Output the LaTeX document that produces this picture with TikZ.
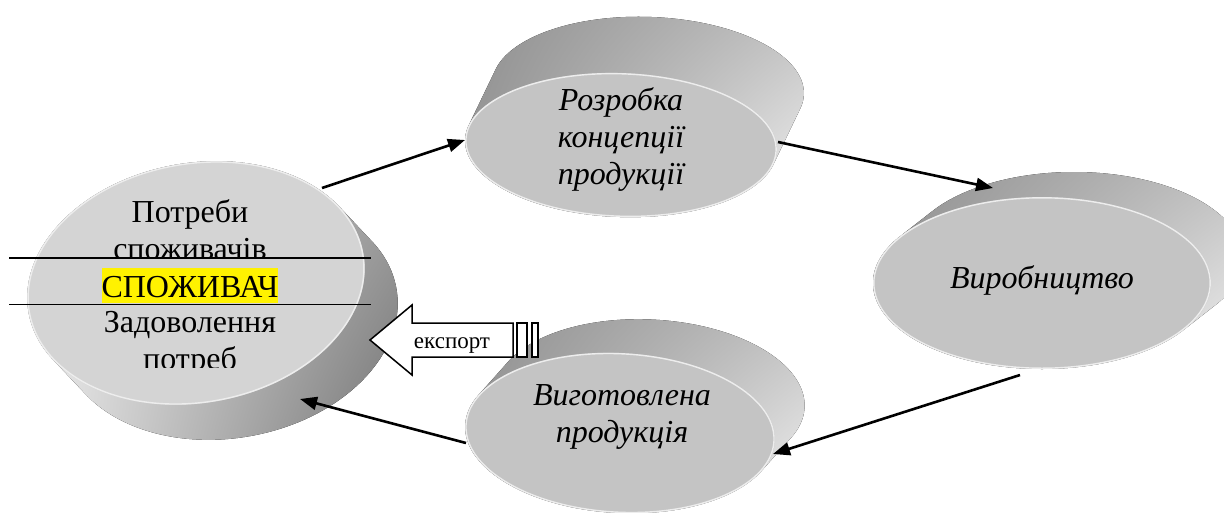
\documentclass[tikz,border=0pt]{standalone}
\usepackage{fontspec}
\setmainfont{Liberation Serif}
\usetikzlibrary{arrows.meta,shadings}
% #1 cx #2 cy #3 a #4 b #5 rot #6 dx(local) #7 dy(local) #8 side style #9 front style
\newcommand\drawdisk[9]{%
  \begin{scope}[shift={(#1,#2)},rotate=#5]
    \fill[#8] foreach \i in {0,...,40}{ ({\i/40*#6},{\i/40*#7}) ellipse [x radius=#3pt, y radius=#4pt] };
    \fill[#9] (0,0) ellipse [x radius=#3pt, y radius=#4pt];
    \draw[rimline] (0,0) ellipse [x radius=#3pt-0.8pt, y radius=#4pt-0.8pt];
  \end{scope}}
\tikzset{
  sideur/.style={upper left=black!44, upper right=black!24, lower left=black!40, lower right=black!5},
  sidelr/.style={upper left=black!6, upper right=black!36, lower left=black!6, lower right=black!56},
  frontl/.style={fill=black!17},
  frontr/.style={fill=black!23},
  rimline/.style={draw=black!7, line width=1.4pt},
  conn/.style={line width=2.6pt, -{Triangle[length=17pt,width=13pt]}},
  bigtxt/.style={font=\fontsize{32}{37}\selectfont, inner sep=0pt, anchor=base},
  ittxt/.style={font=\fontsize{32}{37}\selectfont\itshape, inner sep=0pt, anchor=base},
  rule/.style={line width=1.4pt},
  blockarrow/.style={draw=black, fill=white, line width=1.5pt, line join=miter},
}
\begin{document}
\begin{tikzpicture}[x=1pt,y=-1pt]
\useasboundingbox (0,0) rectangle (1224,512);
\fill[white] (0,0) rectangle (1224,512);
% disks
\drawdisk{196}{283}{170}{120}{10}{26.4}{40.2}{sidelr}{frontl}
\drawdisk{621}{145}{156}{72}{-2}{25}{-57}{sideur}{frontr}
\drawdisk{1042}{283}{169}{86}{0}{32}{-25}{sideur}{frontr}
\drawdisk{620}{433}{155}{80}{-3}{28}{-35}{sideur}{frontr}
% left disk texts
\begin{scope}
  \clip (0,150) rectangle (400,257.5);
  \node[bigtxt] (t1) at (190,222) {Потреби};
  \node[bigtxt] (t2) at (190,259) {споживачів};
\end{scope}
\node[bigtxt, fill=yellow, text height=29pt, text depth=6pt] (t3) at (190,297) {СПОЖИВАЧ};
\begin{scope}
  \clip (0,300) rectangle (400,367.5);
  \node[bigtxt] (t4) at (190,332) {Задоволення};
  \node[bigtxt] (t5) at (190,369) {потреб};
\end{scope}
\coordinate (l1a) at (9,258);
\coordinate (l1b) at (371,258);
\coordinate (l2a) at (9,304.5);
\coordinate (l2b) at (371,304.5);
\draw[rule] (l1a) -- (l1b);
\draw[rule] (l2a) -- (l2b);
% other texts
\node[ittxt] (r1) at (621,110) {Розробка};
\node[ittxt] (r2) at (621,147) {концепції};
\node[ittxt] (r3) at (621,184) {продукції};
\node[ittxt] (v1) at (1042,288) {Виробництво};
\node[ittxt] (g1) at (622,405) {Виготовлена};
\node[ittxt] (g2) at (622,442) {продукція};
% export arrow
\draw[blockarrow] (370,340) -- (412,305) -- (412,323) -- (513,323) -- (513,357) -- (412,357) -- (412,375) -- cycle;
\draw[blockarrow] (517,323) rectangle (527,357);
\draw[blockarrow] (532,323) rectangle (538,357);
\node[font=\fontsize{23}{26}\selectfont, inner sep=0pt, anchor=base] (ex) at (452,348) {експорт};
% connectors
\coordinate (a1s) at (322,188);
\coordinate (a1e) at (465,140);
\coordinate (a2s) at (778,142);
\coordinate (a2e) at (993,188);
\coordinate (a3s) at (1020,375);
\coordinate (a3e) at (773,454);
\coordinate (a4s) at (466,443);
\coordinate (a4e) at (300,399);
\draw[conn] (a1s) -- (a1e);
\draw[conn] (a2s) -- (a2e);
\draw[conn] (a3s) -- (a3e);
\draw[conn] (a4s) -- (a4e);
\end{tikzpicture}
\end{document}
